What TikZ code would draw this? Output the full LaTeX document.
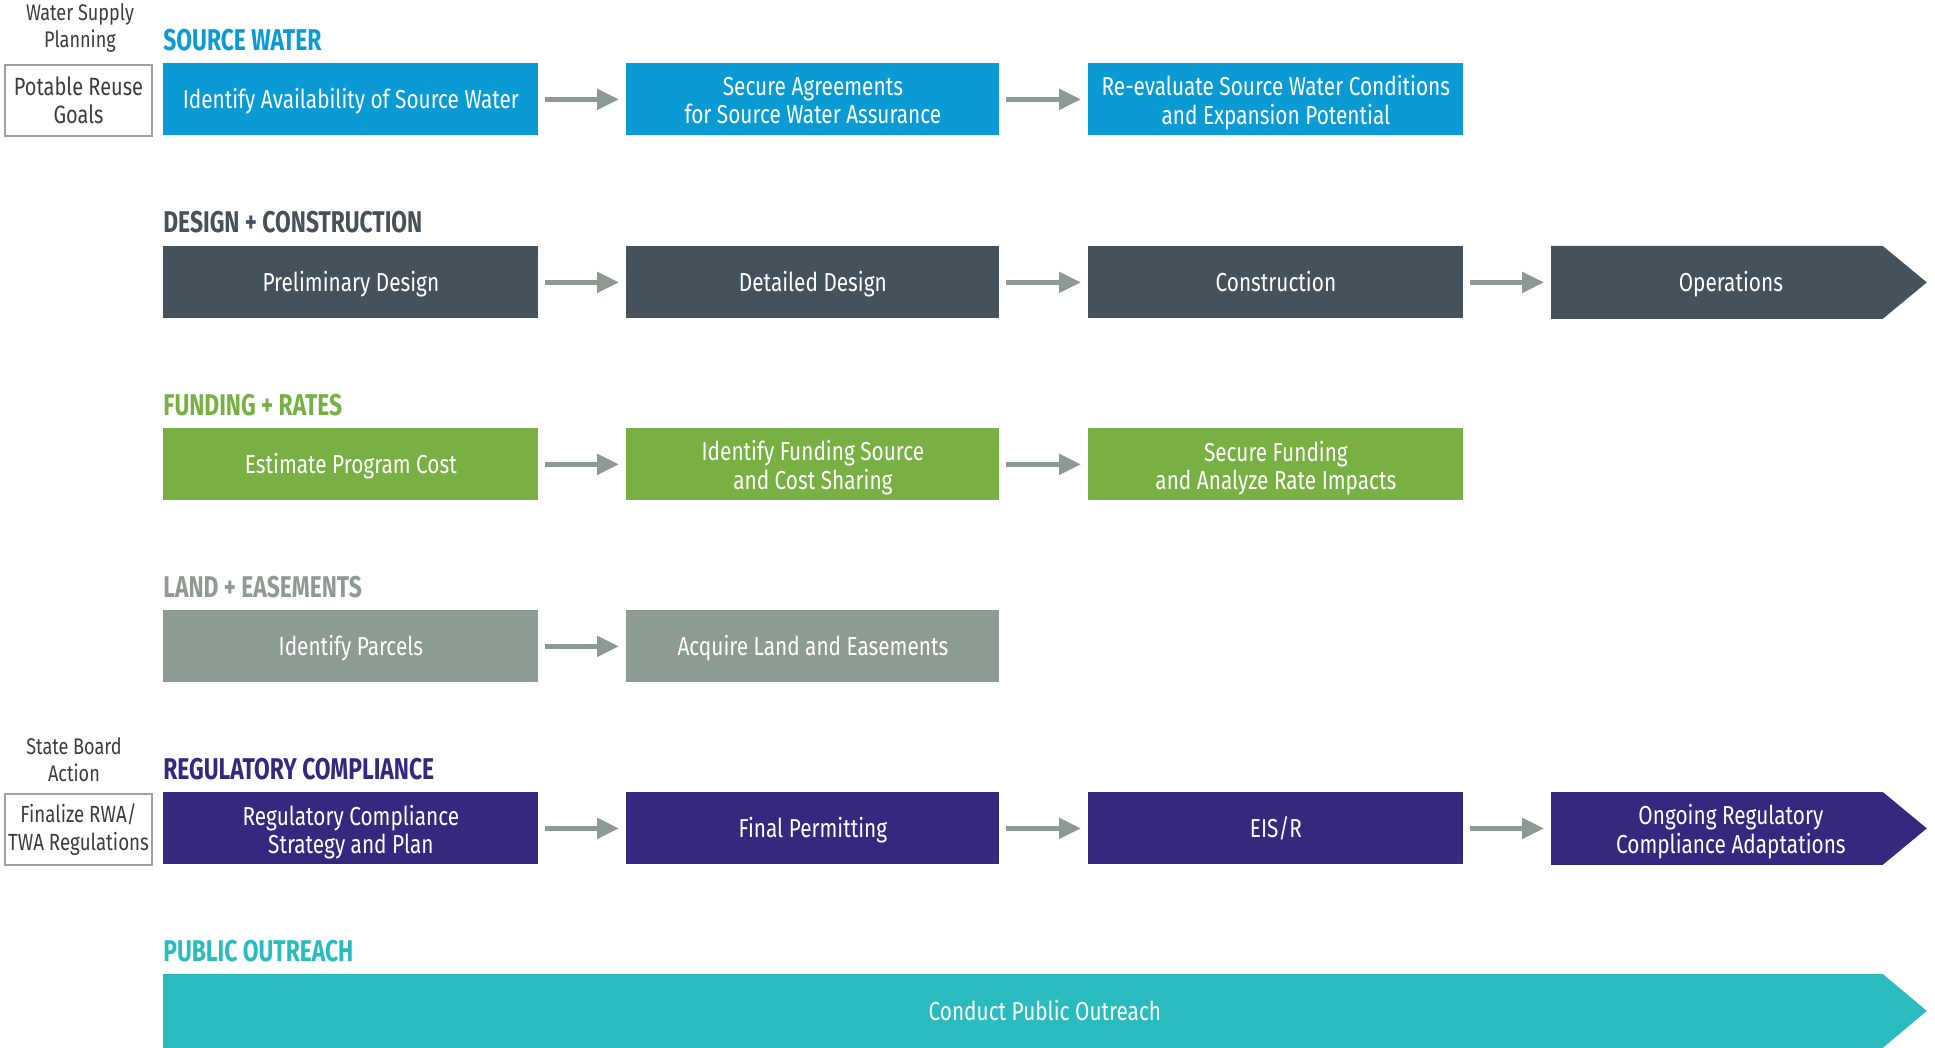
\documentclass[tikz,border=0pt]{standalone}
\usepackage{fontspec}
\newfontfamily\bodyf[FakeStretch=0.8]{Fira Sans}
\newfontfamily\headf[FakeStretch=0.76]{Fira Sans}
\usetikzlibrary{arrows.meta,backgrounds,calc}
\definecolor{cblue}{HTML}{0A9AD4}
\definecolor{cslate}{HTML}{45525B}
\definecolor{cgreen}{HTML}{78B043}
\definecolor{cland}{HTML}{8E9B91}
\definecolor{cindigo}{HTML}{34297E}
\definecolor{cteal}{HTML}{29BBBD}
\definecolor{carrow}{HTML}{8D9A91}
\definecolor{cside}{HTML}{3C3C3C}
\definecolor{csideb}{HTML}{A0A0A0}
\newcommand\twoln[2]{\raisebox{-2.4pt}[\height][\depth]{\begin{tabular}{@{}c@{}}#1\\#2\end{tabular}}}
\tikzset{
  stepbox/.style={rectangle, anchor=north west, inner sep=0pt, minimum width=187.5pt,
    minimum height=36pt, text=white, align=center, font=\bodyf\fontsize{13}{13.8}\selectfont,
    execute at begin node=\rule{0pt}{13.4pt}, execute at end node=\strut},
  head/.style={anchor=west, inner sep=0pt, font=\headf\bfseries\fontsize{15}{16}\selectfont},
  flow/.style={draw=carrow, line width=2.5pt, -{Triangle[length=11pt,width=10pt]},
    shorten <=3pt, shorten >=3.5pt},
  sidelabel/.style={inner sep=0pt, align=center, text=cside, font=\bodyf\fontsize{11.3}{13.5}\selectfont},
  sidebox/.style={rectangle, anchor=north west, draw=csideb, line width=1pt, inner sep=0pt,
    minimum width=73.5pt, minimum height=35.5pt, align=center, text=cside,
    font=\bodyf\fontsize{12.5}{13.8}\selectfont}
}
\begin{document}
\begin{tikzpicture}[x=0.5pt,y=-0.5pt]
\useasboundingbox (0,0) rectangle (1935,1048);

% left side
\node[sidelabel] (wsp) at (80,28) {Water Supply\\Planning};
\node[sidebox] (prg) at (4,64) {Potable Reuse\\Goals};
\node[sidelabel] (sba) at (74,760) {State Board\\Action};
\node[sidebox, font=\bodyf\fontsize{11.7}{13.8}\selectfont] (frw) at (4,793) {Finalize RWA/\\TWA Regulations};

% headings
\node[head, text=cblue] (h1) at (163,40) {SOURCE WATER};
\node[head, text=cslate] (h2) at (163,222) {DESIGN + CONSTRUCTION};
\node[head, text=cgreen] (h3) at (163,405) {FUNDING + RATES};
\node[head, text=cland] (h4) at (163,587) {LAND + EASEMENTS};
\node[head, text=cindigo] (h5) at (163,769) {REGULATORY COMPLIANCE};
\node[head, text=cteal] (h6) at (163,951) {PUBLIC OUTREACH};

% row 1
\node[stepbox, fill=cblue] (s1) at (163,63) {Identify Availability of Source Water};
\node[stepbox, fill=cblue, minimum width=186.5pt] (s2) at (626,63) {\twoln{Secure Agreements}{for Source Water Assurance}};
\node[stepbox, fill=cblue] (s3) at (1088,63) {\twoln{Re-evaluate Source Water Conditions}{and Expansion Potential}};
\draw[flow] (s1) -- (s2);
\draw[flow] (s2) -- (s3);

% row 2
\node[stepbox, fill=cslate] (d1) at (163,246) {Preliminary Design};
\node[stepbox, fill=cslate, minimum width=186.5pt] (d2) at (626,246) {Detailed Design};
\node[stepbox, fill=cslate] (d3) at (1088,246) {Construction};
\node[stepbox] (d4) at (1551,246) {Operations\hspace*{8pt}};
\begin{scope}[on background layer]
\fill[cslate] (d4.north west) -- ([xshift=-22pt]d4.north east) -- (d4.east)
  -- ([xshift=-22pt]d4.south east) -- (d4.south west) -- cycle;
\end{scope}
\draw[flow] (d1) -- (d2);
\draw[flow] (d2) -- (d3);
\draw[flow] (d3) -- (d4);

% row 3
\node[stepbox, fill=cgreen] (f1) at (163,428) {Estimate Program Cost};
\node[stepbox, fill=cgreen, minimum width=186.5pt] (f2) at (626,428) {\twoln{Identify Funding Source}{and Cost Sharing}};
\node[stepbox, fill=cgreen] (f3) at (1088,428) {\twoln{Secure Funding}{and Analyze Rate Impacts}};
\draw[flow] (f1) -- (f2);
\draw[flow] (f2) -- (f3);

% row 4
\node[stepbox, fill=cland] (l1) at (163,610) {Identify Parcels};
\node[stepbox, fill=cland, minimum width=186.5pt] (l2) at (626,610) {Acquire Land and Easements};
\draw[flow] (l1) -- (l2);

% row 5
\node[stepbox, fill=cindigo] (r1) at (163,792) {\twoln{Regulatory Compliance}{Strategy and Plan}};
\node[stepbox, fill=cindigo, minimum width=186.5pt] (r2) at (626,792) {Final Permitting};
\node[stepbox, fill=cindigo] (r3) at (1088,792) {EIS/R};
\node[stepbox] (r4) at (1551,792) {\twoln{Ongoing Regulatory}{Compliance Adaptations}\hspace*{8pt}};
\begin{scope}[on background layer]
\fill[cindigo] (r4.north west) -- ([xshift=-22pt]r4.north east) -- (r4.east)
  -- ([xshift=-22pt]r4.south east) -- (r4.south west) -- cycle;
\end{scope}
\draw[flow] (r1) -- (r2);
\draw[flow] (r2) -- (r3);
\draw[flow] (r3) -- (r4);

% row 6
\node[stepbox, minimum width=881.5pt, minimum height=36.5pt] (p1) at (163,974) {Conduct Public Outreach};
\begin{scope}[on background layer]
\fill[cteal] (p1.north west) -- ([xshift=-22pt]p1.north east) -- (p1.east)
  -- ([xshift=-22pt]p1.south east) -- (p1.south west) -- cycle;
\end{scope}
\end{tikzpicture}
\end{document}
